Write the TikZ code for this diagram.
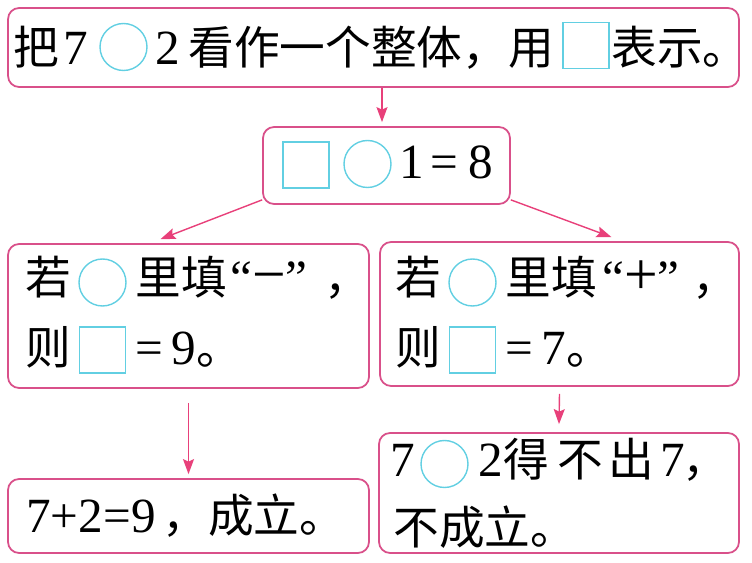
\documentclass[tikz,border=0pt]{standalone}
\usepackage{fontspec}
\setmainfont{Liberation Serif}
\newfontfamily\cjk{Noto Sans CJK SC}
\usepackage{tikz}
\usetikzlibrary{arrows.meta,calc}
\definecolor{fenhong}{HTML}{D9508A}
\definecolor{jiantou}{HTML}{E8407A}
\definecolor{qianlan}{HTML}{62CFE2}
\tikzset{
  kuang/.style={draw=fenhong, line width=1pt, rounded corners=0.22cm, inner sep=0pt},
  wen/.style={anchor=base west, inner sep=0pt, font=\fontsize{26}{30}\selectfont\cjk},
  shu/.style={anchor=base west, inner sep=0pt, font=\fontsize{28}{32}\selectfont},
  jian/.style={draw=jiantou, line width=0.8pt, -{Stealth[length=0.3cm, width=0.22cm, inset=0.05cm]}},
  kong/.style={draw=qianlan, line width=0.8pt}
}
\def\quan(#1,#2){\draw[kong] (#1,#2) circle (0.47cm);}
\def\fang(#1,#2){\draw[kong] ($(#1,#2)+(-23,-23)$) rectangle ($(#1,#2)+(23,23)$);}
\def\dafu#1{{\fontsize{34}{40}\selectfont #1}}

\begin{document}
\begin{tikzpicture}[x=0.02cm, y=-0.02cm]
			%%%%% START %%%%%
			\useasboundingbox (0,0) rectangle (752,563);
			
			\node[kuang, minimum width=14.62cm, minimum height=1.58cm] (top) at (373.5,47.5) {};
			\node[kuang, minimum width=4.94cm, minimum height=1.54cm] (mid) at (386.5,165.5) {};
			\node[kuang, minimum width=7.22cm, minimum height=2.88cm] (zuo) at (188.5,316) {};
			\node[kuang, minimum width=7.18cm, minimum height=2.88cm] (you) at (559.5,314) {};
			\node[kuang, minimum width=7.22cm, minimum height=1.48cm] (zuoxia) at (188.5,516) {};
			\node[kuang, minimum width=7.2cm, minimum height=2.4cm] (youxia) at (559,493) {};
			
			% top line
			\node[wen] (t1) at (13,65) {把};
			\node[shu] (t2) at (63,65) {7};
			\quan(123.5,47)
			\node[shu] (t3) at (155,65) {2};
			\node[wen] (t4) at (188,65) {看作一个整体，用};
			\fang(586,45.5)
			\node[wen] (t5) at (611,65) {表示。};
			
			% middle
			\fang(306,165)
			\quan(367.5,164)
			\node[shu] (m1) at (399,179) {1};
			\node[shu] (m2) at (430,179) {=};
			\node[shu] (m3) at (468,179) {8};
			
			% left
			\node[wen] (z1) at (25,295) {若};
			\quan(102.5,282.5)
			\node[wen] (z2) at (135,295) {里填};
			\node[shu] (z3) at (230,295) {“\dafu{−}”};
			\node[wen] (z4) at (324,295) {，};
			\node[wen] (z5) at (25,365) {则};
			\fang(102.5,350)
			\node[shu] (z6) at (135,365) {=\,9};
			\node[wen] (z7) at (196,365) {。};
			
			% right
			\node[wen] (y1) at (395,295) {若};
			\quan(472.5,282.5)
			\node[wen] (y2) at (505,295) {里填};
			\node[shu] (y3) at (602,295) {“\dafu{+}”};
			\node[wen] (y4) at (692,295) {，};
			\node[wen] (y5) at (395,365) {则};
			\fang(472.5,350)
			\node[shu] (y6) at (505,365) {=\,7};
			\node[wen] (y7) at (566,365) {。};
			
			% bottom
			\node[shu] (zx1) at (26,533) {7+2=9};
			\node[wen] (zx2) at (162,533) {，成立。};
			\node[shu] (yx1) at (390,477) {7};
			\quan(444.5,464)
			\node[shu] (yx2) at (478,477) {2};
			\node[wen] (yx3) at (503,477) {得};
			\node[wen] (yx4) at (557,477) {不};
			\node[wen] (yx5) at (608,477) {出};
			\node[shu] (yx6) at (660,477) {7};
			\node[wen] (yx7) at (682,477) {，};
			\node[wen] (yx8) at (393,545) {不成立。};
			
			% arrows
			\draw[jian] ([xshift=-0.09cm]top.south -| mid.north) -- ([xshift=-0.09cm, yshift=0.08cm]mid.north);
			\draw[jian] ([yshift=0.1cm]mid.south west) -- ([xshift=-0.56cm, yshift=0.08cm]zuo.north);
			\draw[jian] ([yshift=0.1cm]mid.south east) -- ([xshift=1.04cm, yshift=0.08cm]you.north);
			\draw[jian] ([yshift=-0.28cm]zuo.south) -- ([yshift=0.08cm]zuoxia.north);
			\draw[jian] ([yshift=-0.14cm]you.south) -- ([yshift=0.16cm]youxia.north);
			
			%%%%% END %%%%%
\end{tikzpicture}
\end{document}
